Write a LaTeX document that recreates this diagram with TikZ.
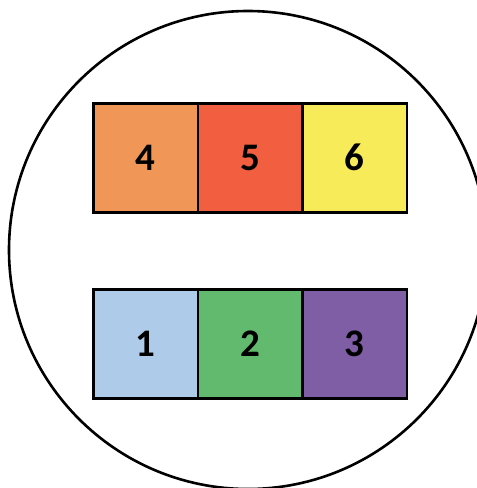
\documentclass[tikz,border=0pt]{standalone}
\usepackage{fontspec}
\setmainfont{Carlito}
\begin{document}
\begin{tikzpicture}[x=1pt,y=-1pt,
  cell/.style={draw=black,line width=2.6pt,minimum width=104.5pt,minimum height=109pt,inner sep=0pt,
    font=\fontsize{39}{39}\selectfont\bfseries,anchor=north west}]
\useasboundingbox (0,0) rectangle (477,488);
\begin{scope}
\clip (0,0) rectangle (477,488);
\node[draw=black,line width=2.6pt,circle,minimum size=478pt,inner sep=0pt] (ring) at (248,250) {};
\end{scope}
\definecolor{c4}{HTML}{F09656}
\definecolor{c5}{HTML}{F15E40}
\definecolor{c6}{HTML}{F8EB5A}
\definecolor{c1}{HTML}{AECCEA}
\definecolor{c2}{HTML}{61BA6D}
\definecolor{c3}{HTML}{805EA5}
\node[cell,fill=c4] (b4) at (92,102) {4};
\node[cell,fill=c5] (b5) at (196.5,102) {5};
\node[cell,fill=c6] (b6) at (301,102) {6};
\node[cell,fill=c1] (b1) at (92,288) {1};
\node[cell,fill=c2] (b2) at (196.5,288) {2};
\node[cell,fill=c3] (b3) at (301,288) {3};
\end{tikzpicture}
\end{document}
